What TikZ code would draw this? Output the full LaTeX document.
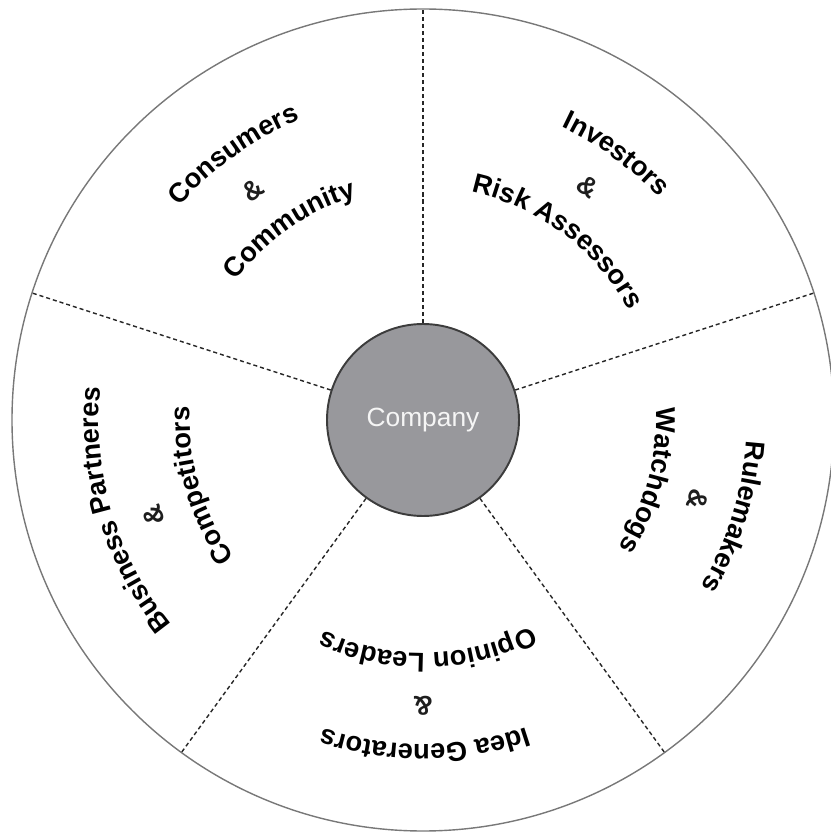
\documentclass[tikz,border=0pt]{standalone}
\usepackage{fontspec}
\usepackage{tikz}
\usetikzlibrary{decorations.text}
\newfontfamily\helv{Liberation Sans}
\definecolor{cRing}{RGB}{120,120,120}
\definecolor{cHub}{RGB}{152,152,156}
\definecolor{cHubLine}{RGB}{60,60,60}
\definecolor{cInk}{RGB}{30,30,30}
\newcommand{\sectfont}{\helv\bfseries\fontsize{15.5}{18}\selectfont}
\tikzset{
	ring/.style   ={circle, draw=cRing, line width=0.8pt, minimum size=16.44cm, inner sep=0pt},
	hub/.style    ={circle, draw=cHubLine, line width=1.1pt, fill=cHub, minimum size=3.84cm, inner sep=0pt, text=white!92!gray, font=\helv\fontsize{15}{18}\selectfont},
	divider/.style={draw=black!85, line width=0.8pt, dash pattern=on 2.3pt off 1.7pt},
	amp/.style    ={inner sep=0pt, text=cInk, font=\sectfont},
}
% text bent round the hub: angle, radius (px of the sketch), text
\newcommand{\ringtext}[3]{%
	\path[decorate, decoration={text along path, text align=center, text={#3}}]
		({#1+60}:{#2*0.02}) arc[start angle={#1+60}, end angle={#1-60}, radius={#2*0.02}];}

\begin{document}
\begin{tikzpicture}
	\useasboundingbox (-8.46,-8.26) rectangle (8.14,8.40);
	\node[ring] (ring) at (0,0) {};
	\node[hub] (hub) at (0,0) {Company};
	\foreach \a in {90,18,-54,-126,162}
		\draw[divider] (hub.\a) -- (ring.\a);
	% the ampersands
	\foreach \a [count=\i] in {126.5,54.7,-16.1,-90,199.4}
		\node[amp, rotate=\a-90] (amp\i) at (\a:5.72) {\&};
	% sectors
	\begin{scope}
		\color{cInk}\sectfont
		\ringtext{125.5}{324}{Consumers}
		\ringtext{125}{233}{Community}
		\ringtext{54}{324}{Investors}
		\ringtext{53}{233}{Risk Assessors}
		\ringtext{-17.3}{324}{Rulemakers}
		\ringtext{-15}{233}{Watchdogs}
		\ringtext{-89.7}{324}{Idea Generators}
		\ringtext{-88.8}{233}{Opinion Leaders}
		\ringtext{196.7}{324}{Business Partneres}
		\ringtext{196.4}{233}{Competitors}
	\end{scope}
\end{tikzpicture}
\end{document}
